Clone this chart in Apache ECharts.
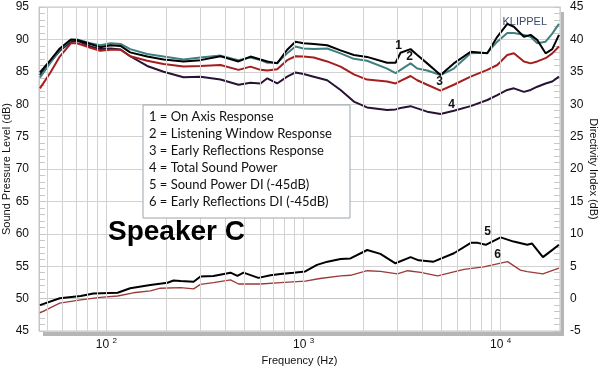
<!DOCTYPE html>
<html><head><meta charset="utf-8">
<script src="https://cdn.jsdelivr.net/npm/echarts@6/dist/echarts.min.js"></script>
<style>html,body{margin:0;padding:0;background:#fff}#c{width:600px;height:371px}</style>
</head><body><div id="c"></div>
<script>
// ---- data ----
const freqMain = [46,52,58,66,71,83,93,105,118,132,161,195,246,300,379,468,538,605,655,735,826,910,1000,1127,1318,1541,1800,2100,2655,2930,3105,3490,3775,4240,4955,5785,7040,8560,9610,10800,11670,13120,14190,15340,16900,18270,19760];
const onAxis = [84.9,86.8,88.6,90.0,89.9,89.3,88.8,89.1,89.0,88.0,87.35,86.9,86.6,86.8,87.4,86.6,87.35,86.9,86.6,86.3,88.4,89.65,89.4,89.3,89.1,88.3,87.6,87.3,86.4,86.4,87.95,88.5,87.6,86.3,84.5,86.3,88.1,87.85,90.4,92.4,91.95,90.4,90.7,89.9,87.85,88.5,90.7];
const listeningWindow = [84.1,86.4,88.45,89.9,90.0,89.4,89.1,89.4,89.3,88.5,87.75,87.35,86.9,87.2,87.5,86.8,87.2,86.8,86.4,86.4,87.85,88.9,88.6,88.5,88.6,87.85,87.0,86.7,85.5,84.8,85.3,86.3,85.5,85.2,84.5,85.5,87.85,87.95,89.65,91.0,91.0,90.7,90.4,89.4,89.65,90.9,92.4];
const earlyReflections = [82.45,84.9,87.35,89.4,89.4,88.7,88.25,88.4,88.4,87.4,86.7,86.2,85.8,85.9,86.05,85.3,85.8,85.3,85.2,85.4,86.8,87.4,87.35,87.2,86.6,85.8,84.6,83.8,83.5,83.2,83.6,84.35,83.7,83.0,82.1,83.0,84.25,85.3,86.05,87.6,87.85,86.6,86.3,86.6,87.1,87.85,88.9];
const soundPower = [84.5,86.55,88.25,89.6,89.8,88.9,88.5,88.6,88.45,87.4,85.9,85.0,84.15,84.25,83.8,83.0,83.3,83.2,84.0,83.2,84.25,84.9,84.65,84.25,83.7,82.2,80.4,79.5,79.1,79.2,79.4,79.7,79.35,78.85,78.5,79.0,79.7,80.65,81.4,82.2,82.45,81.9,82.2,82.7,83.2,83.5,84.25];

const freqSPDI = [46,58,74,86,114,132,167,204,219,238,277,300,349,426,462,496,590,680,764,889,1020,1170,1323,1541,1730,2104,2454,2925,3493,3838,4568,5794,7057,7652,8397,10001,11633,13640,14440,16380,18440,19750];
const soundPowerDI = [-1.0,0.05,0.4,0.8,0.9,1.6,2.1,2.45,2.8,2.7,2.6,3.4,3.5,4.0,3.5,4.0,3.2,3.6,3.8,4.0,4.2,5.2,5.7,6.1,6.2,7.5,6.9,5.45,6.4,5.9,5.7,7.0,8.6,8.6,8.3,9.45,8.8,8.3,8.5,6.4,7.6,8.3];
const freqERDI = [46,58,74,93,114,137,167,188,238,277,300,349,426,468,605,764,1020,1212,1541,1730,2104,2454,2993,3375,3928,4787,6515,8203,10837,12590,13640,16380,19750];
const earlyReflDI = [-2.2,-0.7,-0.2,0.2,0.4,0.9,1.2,1.6,1.7,1.5,2.2,2.45,2.9,2.25,2.25,2.45,2.7,3.1,3.5,3.6,4.3,4.2,3.8,4.3,4.05,3.5,4.5,4.9,5.7,4.4,4.15,3.8,4.7];

const legendLines = ['1 = On Axis Response','2 = Listening Window Response','3 = Early Reflections Response','4 = Total Sound Power','5 = Sound Power DI (-45dB)','6 = Early Reflections DI (-45dB)'];
// curve number labels: [text, freq, dB on left axis]
const curveLabels = [['1',3034,89.0],['2',3452,87.3],['3',4898,83.4],['4',5640,79.9],['5',8590,60.4],['6',9660,56.7]];
const watermark = ['KLIPPEL',13250,92.7];
const gridFreqs = [50,60,70,80,90,100,200,300,400,500,600,700,800,900,1000,2000,3000,4000,5000,6000,7000,8000,9000,10000,20000];
const titleText = 'Speaker C';
const xName = 'Frequency (Hz)', yLeftName = 'Sound Pressure Level (dB)', yRightName = 'Directivity Index (dB)';

const zip = (f, v) => f.map((x, i) => [x, v[i]]);
const FONT = 'Liberation Sans, Arial, sans-serif';

const chart = echarts.init(document.getElementById('c'), null, {renderer: 'canvas'});
const lineSeries = (name, f, v, color, width, yIdx, extra) => Object.assign({
  name, type: 'line', data: zip(f, v), yAxisIndex: yIdx, showSymbol: false, symbol: 'none',
  lineStyle: {color, width}, z: 3, animation: false, silent: true
}, extra || {});

const textPoint = (txt, f, db, label) => ({coord: [f, db], value: txt, symbol: 'circle', symbolSize: 0,
  itemStyle: {color: 'transparent'},
  label: Object.assign({show: true, position: 'inside', formatter: txt, fontFamily: FONT}, label)});

chart.setOption({
  animation: false,
  textStyle: {fontFamily: FONT},
  grid: {left: 39, right: 40, top: 7, bottom: 40, outerBoundsMode: 'none', containLabel: false,
    show: true, backgroundColor: '#fff', borderColor: '#c4c4c4', borderWidth: 1},
  xAxis: {
    type: 'log', logBase: 10, min: 45.5, max: 20000,
    name: xName, nameLocation: 'middle', nameGap: 24, nameMoveOverlap: false,
    nameTextStyle: {fontSize: 11, color: '#111', fontFamily: FONT},
    axisLine: {show: true, lineStyle: {color: '#c4c4c4'}},
    axisTick: {show: false}, splitLine: {show: false}, minorTick: {show: false},
    axisLabel: {
      margin: 6, color: '#111',
      formatter: v => { const e = Math.log10(v); const r = Math.round(e);
        return Math.abs(e - r) < 1e-6 ? '{b|10} {s|' + r + '}' : ''; },
      rich: {b: {fontSize: 12, fontFamily: FONT, color: '#111'},
             s: {fontSize: 8, fontFamily: FONT, color: '#111', padding: [0, 0, 7, 0]}}
    }
  },
  yAxis: [
    {type: 'value', min: 45, max: 95, interval: 5, position: 'left',
     name: yLeftName, nameLocation: 'middle', nameGap: 27, nameRotate: 90, nameMoveOverlap: false,
     nameTextStyle: {fontSize: 11, color: '#111', fontFamily: FONT},
     axisLine: {show: true, lineStyle: {color: '#c4c4c4'}},
     axisTick: {show: true, inside: true, length: 6, lineStyle: {color: '#c8c8c8'}},
     minorTick: {show: true, splitNumber: 5, length: 6, lineStyle: {color: '#c8c8c8'}},
     splitLine: {show: true, lineStyle: {color: '#d2d2d2', width: 1}},
     axisLabel: {fontSize: 12, color: '#111', margin: 10, fontFamily: FONT}},
    {type: 'value', min: -5, max: 45, interval: 5, position: 'right',
     name: yRightName, nameLocation: 'middle', nameGap: 28, nameRotate: -90, nameMoveOverlap: false,
     nameTextStyle: {fontSize: 11, color: '#111', fontFamily: FONT},
     axisLine: {show: true, lineStyle: {color: '#c4c4c4'}},
     axisTick: {show: true, inside: true, length: 6, lineStyle: {color: '#c8c8c8'}},
     minorTick: {show: true, splitNumber: 5, length: 6, lineStyle: {color: '#c8c8c8'}},
     splitLine: {show: false},
     axisLabel: {fontSize: 12, color: '#111', margin: 10, fontFamily: FONT}}
  ],
  series: [
    {type: 'line', data: [], yAxisIndex: 0, z: 1, silent: true,
     markLine: {silent: true, symbol: 'none', animation: false, label: {show: false},
       lineStyle: {color: '#d2d2d2', width: 1, type: 'solid'},
       data: gridFreqs.map(f => ({xAxis: f}))}},
    lineSeries('Sound Power', freqMain, soundPower, '#2a1234', 2, 0, {z: 2,
      markPoint: {silent: true, animation: false, z: 1,
        data: [textPoint(watermark[0], watermark[1], watermark[2], {fontSize: 11, color: '#3b4a6e'})]}}),
    lineSeries('Early Reflections', freqMain, earlyReflections, '#a41e1e', 2, 0),
    lineSeries('Listening Window', freqMain, listeningWindow, '#3f8080', 2, 0),
    lineSeries('On Axis', freqMain, onAxis, '#000000', 2, 0, {z: 4,
      markPoint: {silent: true, animation: false,
        data: curveLabels.map(c => textPoint(c[0], c[1], c[2], {fontSize: 12, fontWeight: 'bold', color: '#111'}))}}),
    lineSeries('Sound Power DI', freqSPDI, soundPowerDI, '#000000', 2, 1),
    lineSeries('Early Reflections DI', freqERDI, earlyReflDI, '#9c3a3a', 1.3, 1)
  ],
  graphic: [
    // drop shadow of the plot frame
    {type: 'rect', z: -1, shape: {x: 43, y: 332, width: 521, height: 4}, style: {fill: '#b6b6b6'}},
    {type: 'rect', z: -1, shape: {x: 560, y: 12, width: 4, height: 324}, style: {fill: '#b6b6b6'}},
    {type: 'rect', z: 10, shape: {x: 143, y: 105, width: 207, height: 113},
     style: {fill: '#fff', stroke: '#9aa5ae', lineWidth: 1}},
    ...legendLines.map((t, i) => ({type: 'text', z: 11, x: 149, y: 116.7 + i * 17.1,
      style: {text: t, fontSize: 13, fontFamily: 'Lato, Open Sans, sans-serif', fill: '#111', verticalAlign: 'middle'}})),
    {type: 'text', z: 11, x: 108, y: 232,
     style: {text: titleText, fontSize: 28, fontWeight: 'bold', fontFamily: FONT, fill: '#000', verticalAlign: 'middle'}}
  ]
});
</script></body></html>
